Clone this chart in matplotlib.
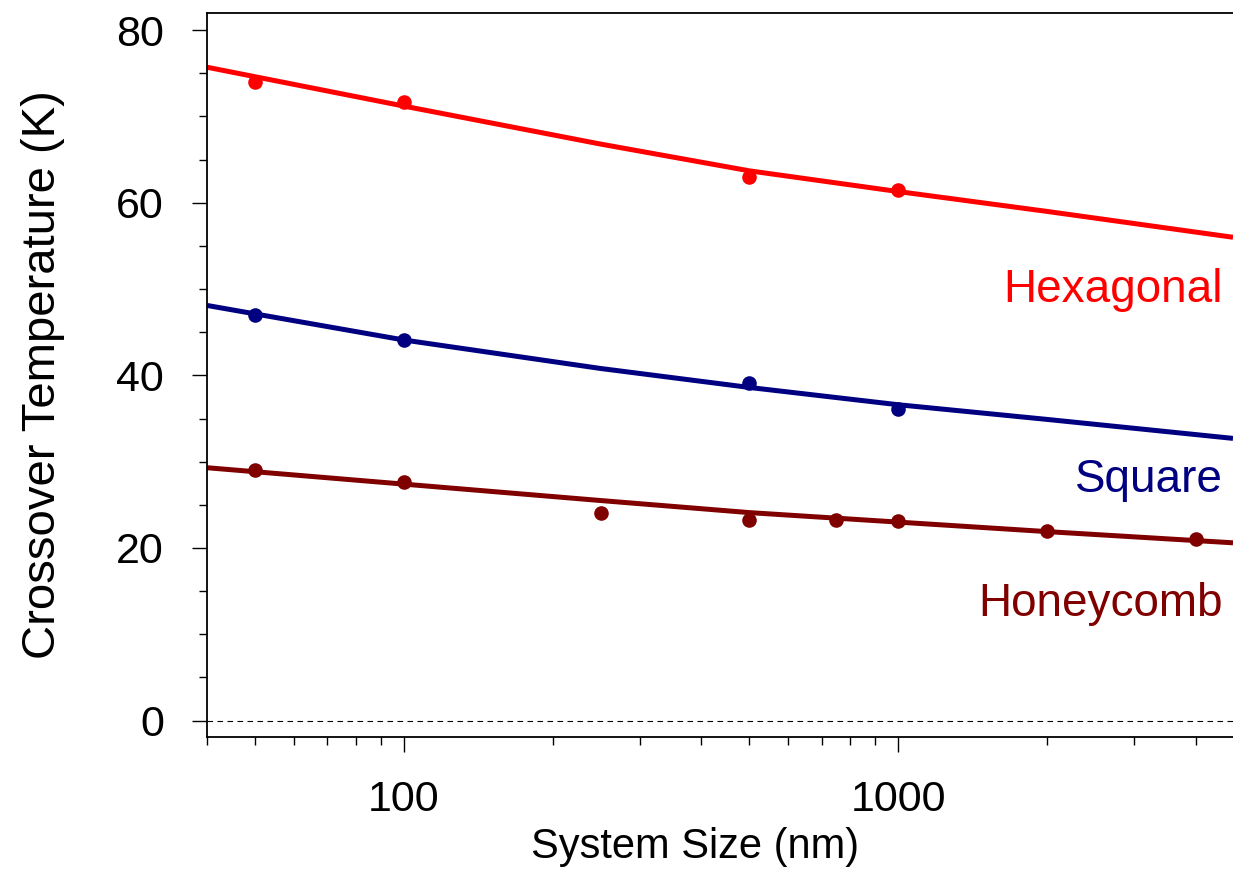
import numpy as np
import matplotlib
matplotlib.use("Agg")
from matplotlib import pyplot as plt
from matplotlib.ticker import LogLocator, NullFormatter, FixedLocator, MultipleLocator

plt.rcParams['font.family'] = ['Liberation Sans', 'DejaVu Sans']

# measured points
hex_x = [50, 100, 500, 1000]
hex_y = [74.0, 71.7, 63.0, 61.5]
sq_x = [50, 100, 500, 1000]
sq_y = [47.05, 44.1, 39.1, 36.1]
hc_x = [50, 100, 250, 500, 750, 1000, 2000, 4000]
hc_y = [29.0, 27.7, 24.1, 23.2, 23.3, 23.1, 22.0, 21.0]

# fit curves
curve_x = [40, 100, 250, 500, 1000, 2000, 4760]
hex_fit = [75.7, 71.2, 66.8, 63.7, 61.3, 59.0, 56.0]
sq_fit = [48.1, 44.1, 40.8, 38.6, 36.6, 34.9, 32.7]
hc_fit = [29.3, 27.4, 25.5, 24.1, 23.0, 21.9, 20.6]

labels = ["Hexagonal", "Square", "Honeycomb"]
label_y = [49.9, 27.9, 13.5]
colors = ["#ff0000", "#000080", "#800000"]

fig = plt.figure(figsize=(12.33, 8.94), dpi=100)
ax = fig.add_axes([0.168, 0.1756, 0.832, 0.81])

ax.axhline(0, color="black", lw=0.8, ls=(0, (5, 4)), zorder=1)

series = [(hex_x, hex_y, hex_fit), (sq_x, sq_y, sq_fit), (hc_x, hc_y, hc_fit)]
for (px, py, fit), c in zip(series, colors):
    ax.plot(curve_x, fit, color=c, lw=3.6, solid_capstyle="butt", zorder=2)
    ax.plot(px, py, "o", color=c, ms=10.5, mec="none", zorder=3)

for lab, yy, c in zip(labels, label_y, colors):
    ax.text(0.99, yy, lab, color=c, fontsize=33, ha="right", va="center",
            transform=ax.get_yaxis_transform())

ax.set_xscale("log")
ax.set_xlim(40, 4760)
ax.set_ylim(-1.9, 82)

ax.xaxis.set_major_locator(FixedLocator([100, 1000]))
ax.set_xticklabels(["100", "1000"])
ax.xaxis.set_minor_locator(LogLocator(base=10, subs=np.arange(2, 10)))
ax.xaxis.set_minor_formatter(NullFormatter())
ax.yaxis.set_major_locator(MultipleLocator(20))
ax.yaxis.set_minor_locator(MultipleLocator(5))

ax.tick_params(which="major", length=11, width=1.0, labelsize=31, pad=20, direction="out")
ax.tick_params(which="minor", length=5.5, width=1.0, direction="out")

for s in ["left", "bottom", "top"]:
    ax.spines[s].set_linewidth(1.3)
ax.spines["right"].set_visible(False)

ax.set_xlabel("System Size (nm)", fontsize=30)
ax.set_ylabel("Crossover Temperature (K)", fontsize=34)
ax.xaxis.set_label_coords(0.476, -0.124)
ax.yaxis.set_label_coords(-0.139, 0.5)

fig.savefig("out.png", dpi=100)
